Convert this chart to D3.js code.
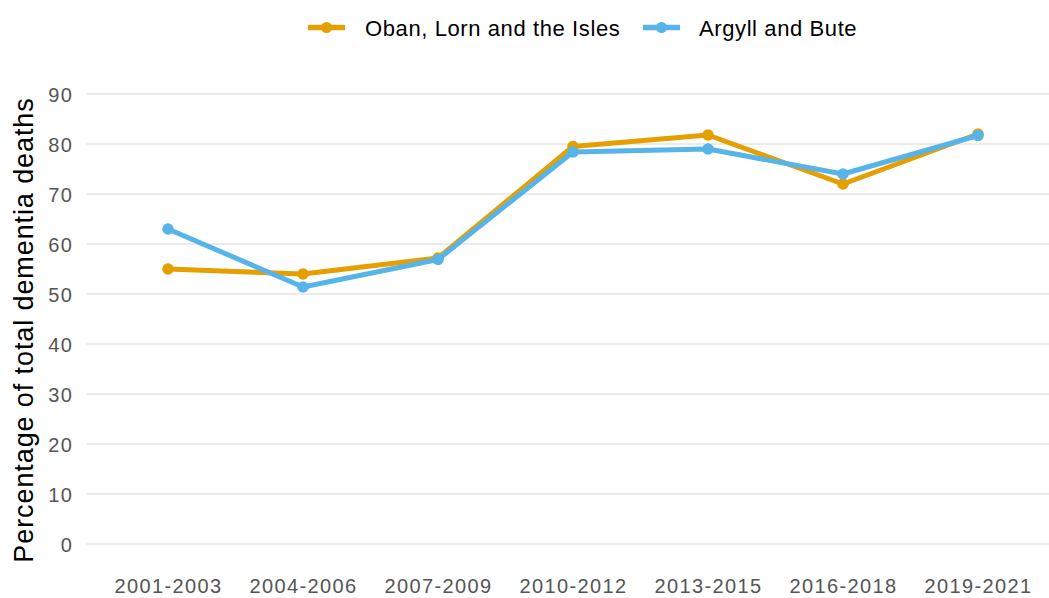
<!DOCTYPE html>
<html>
<head>
<meta charset="utf-8">
<script src="https://cdn.jsdelivr.net/npm/d3@7"></script>
<style>
  html, body { margin: 0; padding: 0; background: #fff; }
  svg { display: block; font-family: "Liberation Sans", Arial, sans-serif; }
</style>
</head>
<body>
<svg id="chart" width="1049" height="598"></svg>
<script>
// Three-year periods
const periods = ["2001-2003", "2004-2006", "2007-2009", "2010-2012", "2013-2015", "2016-2018", "2019-2021"];
// Percentage of total dementia deaths
const obanValues = [55, 54, 57.2, 79.5, 81.8, 72, 82];
const argyllValues = [63, 51.4, 56.9, 78.4, 79, 74, 81.7];
const yTicks = [0, 10, 20, 30, 40, 50, 60, 70, 80, 90];

const seriesList = [
  { name: "Oban, Lorn and the Isles", values: obanValues, color: "#E69F00" },
  { name: "Argyll and Bute", values: argyllValues, color: "#56B4E9" }
];

const svg = d3.select("#chart");
const panel = { left: 87, right: 1059 };

const x = d3.scalePoint().domain(periods).range([panel.left, panel.right]).padding(0.6);
const y = d3.scaleLinear().domain([0, 90]).range([544, 94]);

// Horizontal gridlines
svg.append("g")
  .selectAll("line")
  .data(yTicks)
  .join("line")
  .attr("x1", panel.left)
  .attr("x2", panel.right)
  .attr("y1", d => y(d))
  .attr("y2", d => y(d))
  .attr("stroke", "#ebebeb")
  .attr("stroke-width", 2);

// Y axis labels
const yAxis = d3.axisLeft(y).tickValues(yTicks).tickSize(0).tickPadding(0);
const yg = svg.append("g").attr("transform", "translate(73,0)").call(yAxis);
yg.select(".domain").remove();
yg.selectAll("text")
  .attr("fill", "#555555")
  .attr("dy", "0.36em")
  .style("font-size", "20px")
  .style("letter-spacing", "1.2px");

// X axis labels
const xAxis = d3.axisBottom(x).tickSize(0).tickPadding(0);
const xg = svg.append("g").attr("transform", "translate(0,593)").call(xAxis);
xg.select(".domain").remove();
xg.selectAll("text")
  .attr("fill", "#555555")
  .attr("dy", "0")
  .style("font-size", "20px")
  .style("letter-spacing", "1.4px");

// Y axis title
svg.append("text")
  .attr("transform", "translate(33,330) rotate(-90)")
  .attr("text-anchor", "middle")
  .attr("fill", "#000")
  .style("font-size", "27px")
  .style("letter-spacing", "0.9px")
  .text("Percentage of total dementia deaths");

// Lines and points
const line = d3.line().x((d, i) => x(periods[i])).y(d => y(d));
seriesList.forEach(s => {
  svg.append("path")
    .datum(s.values)
    .attr("d", line)
    .attr("fill", "none")
    .attr("stroke", s.color)
    .attr("stroke-width", 5)
    .attr("stroke-linejoin", "round");
  svg.append("g")
    .selectAll("circle")
    .data(s.values)
    .join("circle")
    .attr("cx", (d, i) => x(periods[i]))
    .attr("cy", d => y(d))
    .attr("r", 5.8)
    .attr("fill", s.color);
});

// Legend
const legendItems = [
  { x: 308, textX: 365 },
  { x: 643, textX: 699 }
];
seriesList.forEach((s, i) => {
  const g = svg.append("g");
  const lx = legendItems[i].x;
  g.append("line")
    .attr("x1", lx).attr("x2", lx + 37)
    .attr("y1", 27.5).attr("y2", 27.5)
    .attr("stroke", s.color).attr("stroke-width", 5.5);
  g.append("circle")
    .attr("cx", lx + 18.5).attr("cy", 27.5).attr("r", 5.5)
    .attr("fill", s.color);
  g.append("text")
    .attr("x", legendItems[i].textX).attr("y", 35.5)
    .attr("fill", "#000")
    .style("font-size", "22px")
    .style("letter-spacing", "0.6px")
    .text(s.name);
});
</script>
</body>
</html>
